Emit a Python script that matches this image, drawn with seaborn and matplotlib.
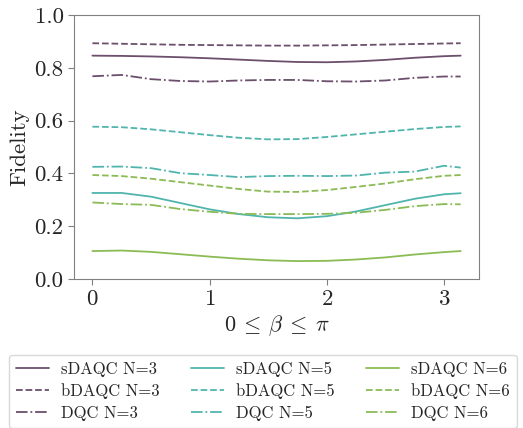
import numpy as np
import pandas as pd
import seaborn as sns
import matplotlib.pyplot as plt

# Valores (beta entre 0 y pi)
beta = [0, 0.25, 0.5, 0.75, 1.0, 1.25, 1.5, 1.75, 2.0, 2.25, 2.5, 2.75, 3.0, 3.1416]

sdaqc_3 = [0.846, 0.845, 0.843, 0.840, 0.836, 0.831, 0.826, 0.822, 0.821, 0.824, 0.830, 0.838, 0.844, 0.846]
bdaqc_3 = [0.893, 0.891, 0.889, 0.887, 0.886, 0.885, 0.884, 0.884, 0.885, 0.886, 0.888, 0.890, 0.892, 0.893]
dqc_3 = [0.768, 0.773, 0.757, 0.750, 0.748, 0.752, 0.754, 0.754, 0.749, 0.748, 0.752, 0.762, 0.767, 0.767]

sdaqc_5 = [0.326, 0.326, 0.312, 0.288, 0.264, 0.246, 0.234, 0.230, 0.238, 0.256, 0.280, 0.304, 0.321, 0.325]
bdaqc_5 = [0.577, 0.575, 0.567, 0.556, 0.545, 0.535, 0.529, 0.530, 0.538, 0.548, 0.558, 0.568, 0.576, 0.578]
dqc_5 = [0.425, 0.426, 0.420, 0.401, 0.394, 0.386, 0.390, 0.391, 0.390, 0.392, 0.403, 0.407, 0.429, 0.422]

sdaqc_6 = [0.106, 0.108, 0.103, 0.094, 0.085, 0.077, 0.071, 0.068, 0.069, 0.074, 0.082, 0.093, 0.102, 0.106]
bdaqc_6 = [0.394, 0.390, 0.380, 0.367, 0.354, 0.341, 0.331, 0.330, 0.337, 0.349, 0.362, 0.378, 0.391, 0.394]
dqc_6 = [0.290, 0.284, 0.281, 0.265, 0.255, 0.247, 0.246, 0.246, 0.247, 0.251, 0.262, 0.276, 0.284, 0.283]

colores = {3: '#6b4f6c', 5: '#4fb5ad', 6: '#8bbb55'}
estilos = {'sDAQC': '-', 'bDAQC': '--', 'DQC': '-.'}

series = [
    ('sDAQC', 3, sdaqc_3), ('bDAQC', 3, bdaqc_3), ('DQC', 3, dqc_3),
    ('sDAQC', 5, sdaqc_5), ('bDAQC', 5, bdaqc_5), ('DQC', 5, dqc_5),
    ('sDAQC', 6, sdaqc_6), ('bDAQC', 6, bdaqc_6), ('DQC', 6, dqc_6),
]

sns.set_style('white')
plt.rcParams['font.family'] = ['cmr10', 'DejaVu Serif']
plt.rcParams['mathtext.fontset'] = 'cm'
plt.rcParams['axes.formatter.use_mathtext'] = True

fig = plt.figure(figsize=(5.23, 4.28), dpi=100)
ax = fig.add_axes([0.1415, 0.348, 0.7745, 0.617])

for metodo, n, valores in series:
    df = pd.DataFrame({'beta': beta, 'fid': valores})
    sns.lineplot(data=df, x='beta', y='fid', ax=ax, color=colores[n],
                 linestyle=estilos[metodo], linewidth=1.3,
                 label=f'{metodo} N={n}')

ax.set_ylim(0, 1)
ax.set_yticks([0, 0.2, 0.4, 0.6, 0.8, 1.0])
ax.set_yticklabels(['0.0', '0.2', '0.4', '0.6', '0.8', '1.0'])
ax.set_xticks([0, 1, 2, 3])
ax.set_xlabel(r'$0 \:\leq\: \beta \:\leq\: \pi$', fontsize=16, labelpad=3)
ax.set_ylabel('Fidelity', fontsize=16.5)
ax.tick_params(labelsize=16.5, length=4, color='#808080', bottom=True, left=True)
for sp in ax.spines.values():
    sp.set_color('#808080')

handles, labels = ax.get_legend_handles_labels()
ax.get_legend().remove()
fig.legend(handles, labels, ncol=3, loc='upper left',
           bbox_to_anchor=(0.017, 0.171), borderaxespad=0,
           fontsize=12, frameon=True, labelspacing=0.4,
           handletextpad=0.7, columnspacing=1.9, borderpad=0.4,
           edgecolor='#d0d0d0', fancybox=True)

fig.savefig('out.png', dpi=100)
